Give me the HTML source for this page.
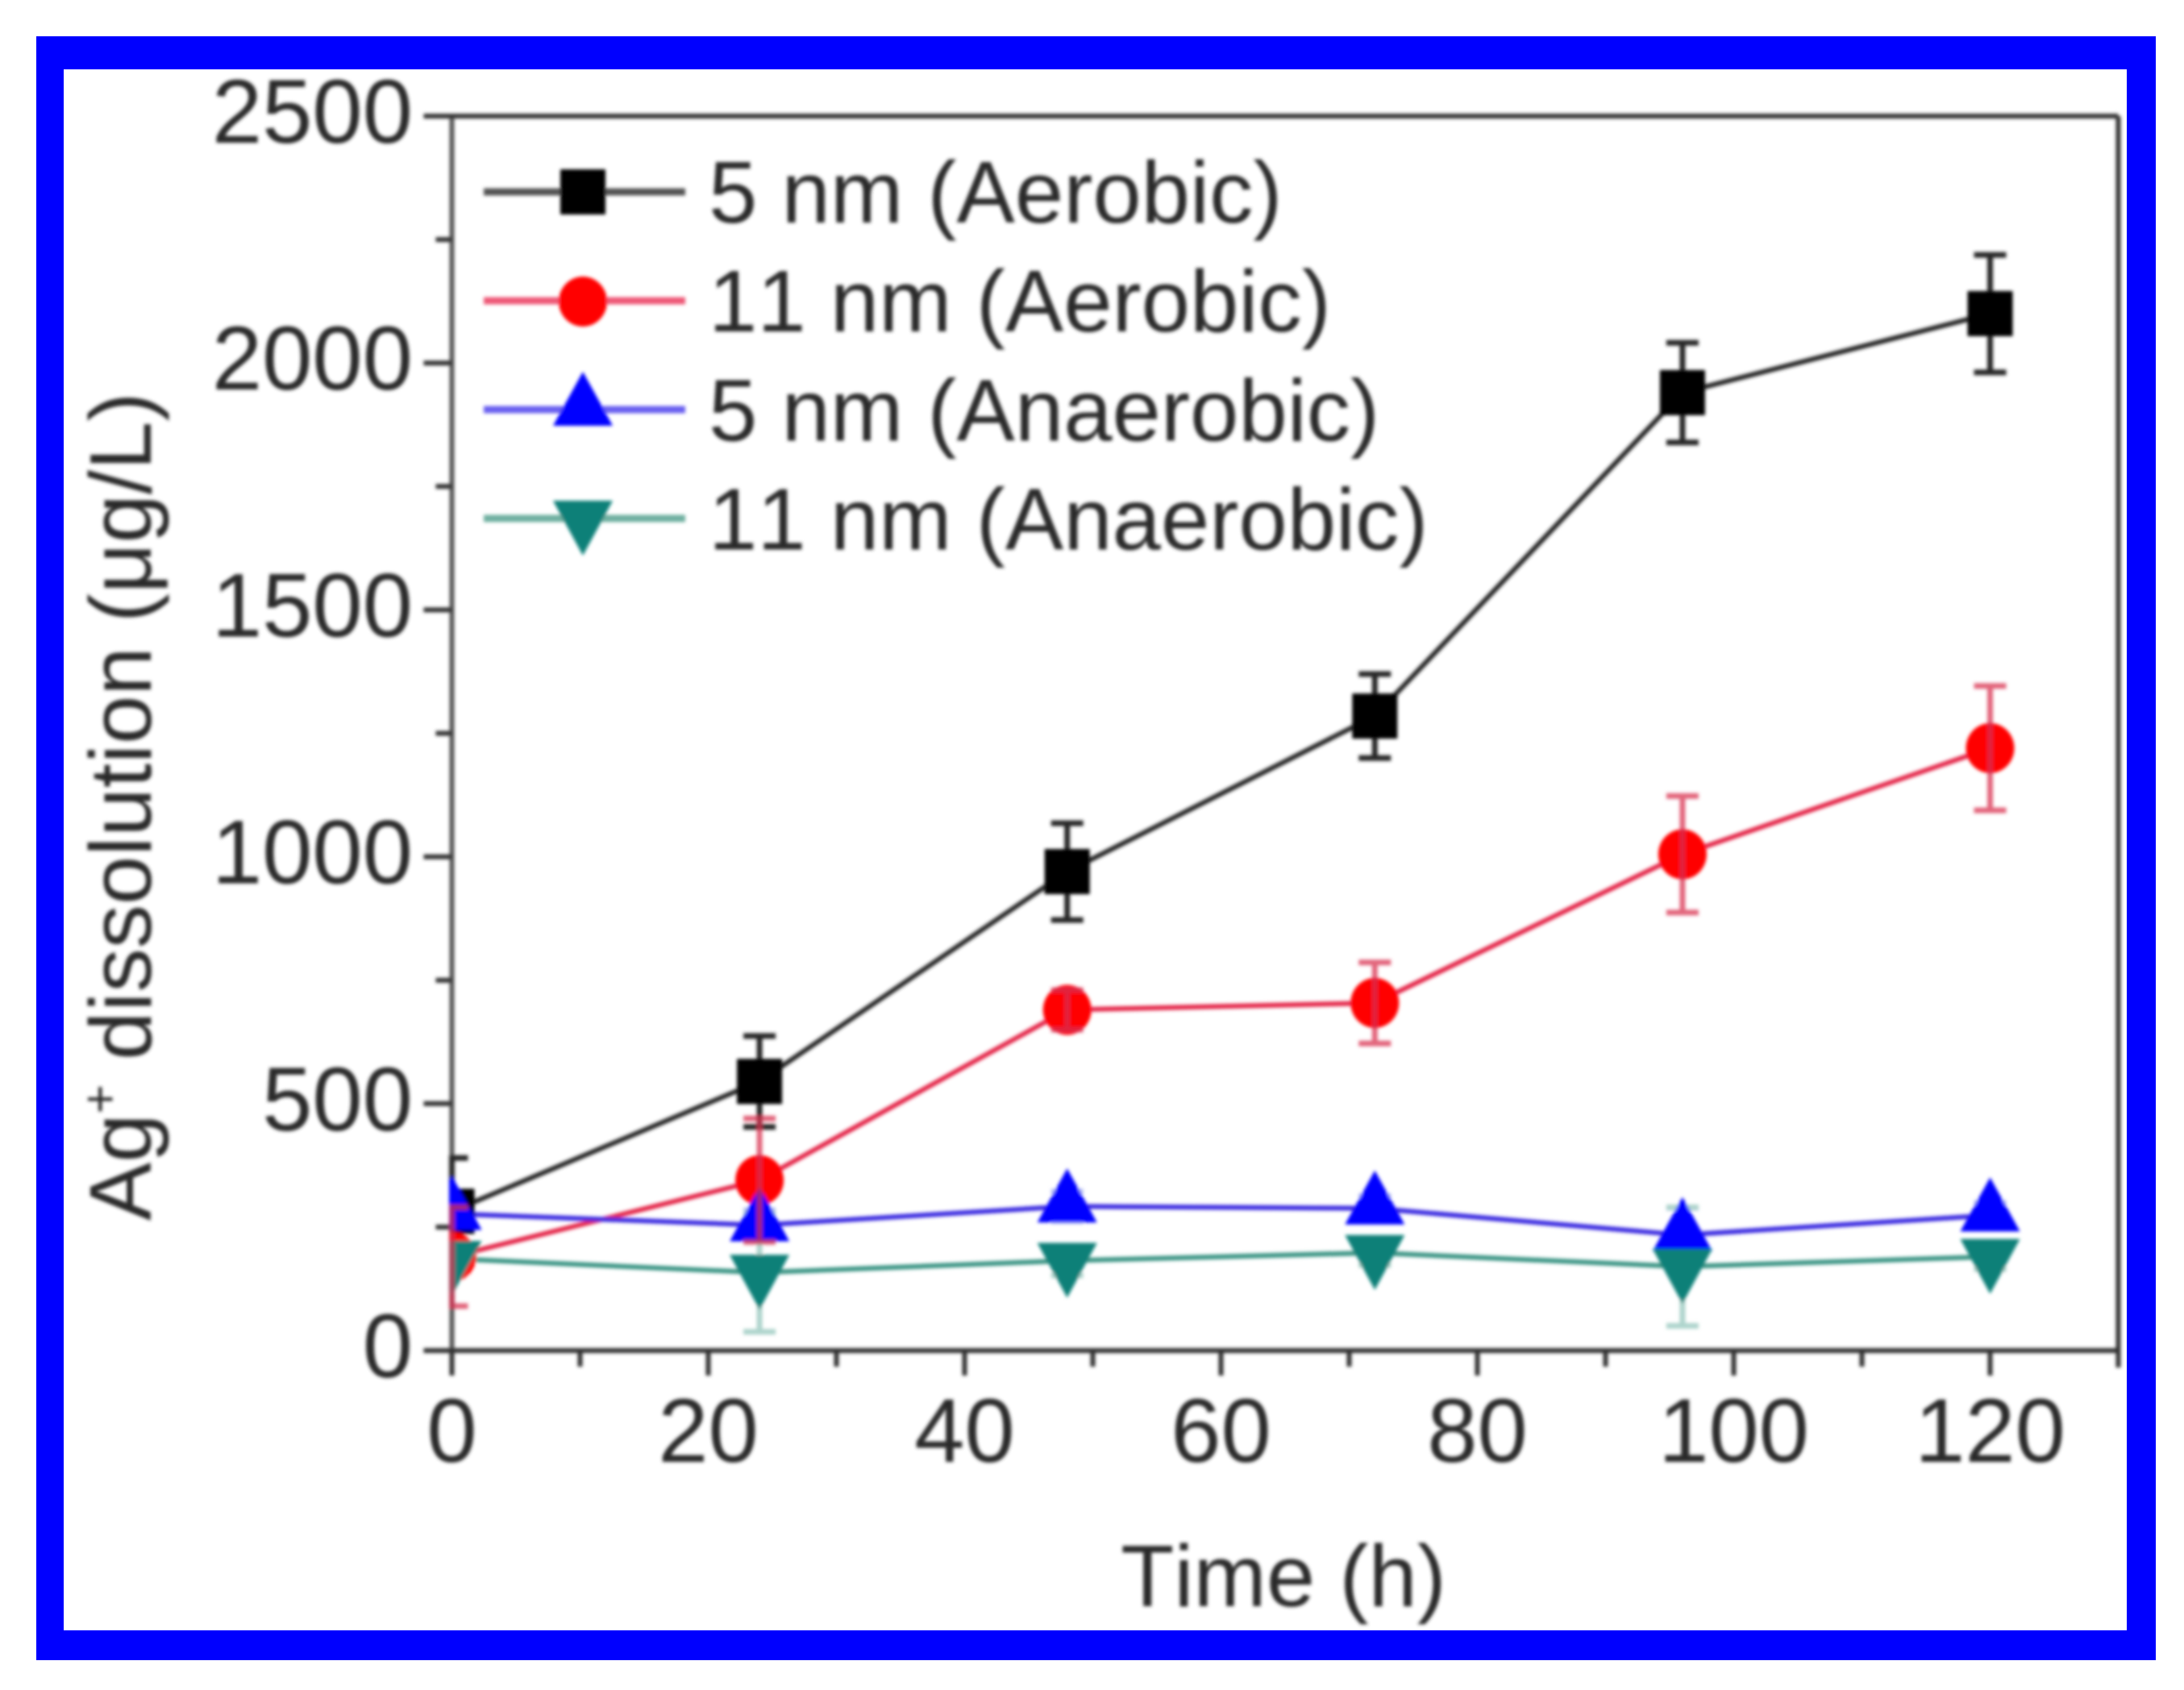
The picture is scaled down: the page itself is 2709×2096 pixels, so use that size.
<!DOCTYPE html>
<html lang="en">
<head>
<meta charset="utf-8">
<title>Ag+ dissolution over time</title>
<style>
html,body{margin:0;padding:0;background:#fff;width:2709px;height:2096px;overflow:hidden}
svg{display:block}
text{font-family:"Liberation Sans",sans-serif;font-size:108.5px;fill:#2a2a2a;font-kerning:none}
text.tick{font-size:112px}
</style>
</head>
<body>
<svg id="chart" xmlns="http://www.w3.org/2000/svg" width="2709" height="2096" viewBox="0 0 2709 2096">
  <defs>
    <filter id="soft" x="0" y="0" width="100%" height="100%" filterUnits="objectBoundingBox">
      <feGaussianBlur stdDeviation="2.2"/>
    </filter>
    <clipPath id="plot-clip"><rect x="557" y="100" width="2080" height="1640"/></clipPath>
  </defs>
  <rect x="0" y="0" width="2709" height="2096" fill="#fff"/>
  <path fill="#0000ff" fill-rule="evenodd" d="M45 45H2674V2059H45ZM79 86V2022H2638V86Z"/>
  <g id="plot" filter="url(#soft)">
    <rect x="45" y="45" width="2629" height="2014" fill="none"/>
  </g>
</svg>
<script>
const times = [0, 24, 48, 72, 96, 120];
const black5Aerobic = [282, 545, 970, 1285, 1940, 2100];
const black5AerobicErr = [108, 92, 98, 85, 101, 119];
const red11Aerobic = [190, 345, 690, 704, 1005, 1220];
const red11AerobicErr = [100, 125, 40, 82, 118, 126];
const blue5Anaerobic = [277, 254, 292, 288, 234, 274];
const blue5AnaerobicErr = [35, 30, 30, 25, 55, 25];
const teal11Anaerobic = [186, 158, 182, 198, 170, 190];
const teal11AnaerobicErr = [30, 120, 30, 25, 120, 25];
const xTickLabels = [0, 20, 40, 60, 80, 100, 120];
const yTickLabels = [0, 500, 1000, 1500, 2000, 2500];
const legendLabels = ['5 nm (Aerobic)', '11 nm (Aerobic)', '5 nm (Anaerobic)', '11 nm (Anaerobic)'];

const NS = 'http://www.w3.org/2000/svg';
const plot = document.getElementById('plot');
const X0 = 560.5, XPX = 15.9, Y0 = 1675, YPX = 0.6124;
const sx = v => X0 + v * XPX;
const sy = v => Y0 - v * YPX;

function make(tag, attrs, parent) {
  const el = document.createElementNS(NS, tag);
  for (const k in attrs) el.setAttribute(k, attrs[k]);
  (parent || plot).appendChild(el);
  return el;
}
function segment(x1, y1, x2, y2, color, width, parent) {
  return make('line', {x1, y1, x2, y2, stroke: color, 'stroke-width': width}, parent);
}
function marker(kind, cx, cy, color, parent) {
  if (kind === 'square') return make('rect', {x: cx - 28, y: cy - 28, width: 56, height: 56, fill: color}, parent);
  if (kind === 'circle') return make('ellipse', {cx, cy, rx: 30, ry: 31, fill: color}, parent);
  if (kind === 'up') return make('polygon', {points: `${cx},${cy - 47} ${cx + 37},${cy + 20} ${cx - 37},${cy + 20}`, fill: color}, parent);
  return make('polygon', {points: `${cx - 37},${cy - 22} ${cx + 37},${cy - 22} ${cx},${cy + 46}`, fill: color}, parent);
}

const AXIS = '#333';
const axisFrame = make('g', {});


segment(X0, sy(2500), X0, 1706, '#555', 6, axisFrame);
segment(527, sy(2500), sx(130), sy(2500), AXIS, 6, axisFrame);
segment(527, Y0, sx(130), Y0, AXIS, 6, axisFrame);
segment(sx(130), sy(2500), sx(130), 1696, AXIS, 6, axisFrame);

for (let v = 0; v <= 130; v += 10) {
  const major = v % 20 === 0;
  const tick = segment(sx(v), Y0, sx(v), Y0 + (major ? 31 : 20), AXIS, 6, axisFrame);
  
  
}
for (let v = 0; v <= 2500; v += 250) {
  const major = v % 500 === 0;
  const tick = segment(X0, sy(v), X0 - (major ? 35 : 20), sy(v), AXIS, 6, axisFrame);
  
  
}
xTickLabels.forEach(v => {
  const t = make('text', {x: sx(v), y: 1813, 'text-anchor': 'middle', class: 'tick'});
  t.textContent = v;
  
  
});
yTickLabels.forEach(v => {
  const t = make('text', {x: 512, y: sy(v) + 33, 'text-anchor': 'end', class: 'tick'});
  t.textContent = v;
  
  
});

const xTitle = make('text', {x: 1592, y: 1992, 'text-anchor': 'middle'});
xTitle.textContent = 'Time (h)';



const yTitle = make('text', {transform: 'translate(187,1514) rotate(-90)'});


const yA = make('tspan', {}, yTitle);
yA.textContent = 'Ag';
const ySup = make('tspan', {dy: -42, 'font-size': 62}, yTitle);
ySup.textContent = '+';
const yB = make('tspan', {dy: 42}, yTitle);
yB.textContent = ' dissolution (μg/L)';

const seriesNames = ['series-5nm-aerobic', 'series-11nm-aerobic', 'series-5nm-anaerobic', 'series-11nm-anaerobic'];
const seriesValues = [black5Aerobic, red11Aerobic, blue5Anaerobic, teal11Anaerobic];
const seriesErrors = [black5AerobicErr, red11AerobicErr, blue5AnaerobicErr, teal11AnaerobicErr];
const markerKinds = ['square', 'circle', 'up', 'down'];
const markerColors = ['#000000', '#ff0000', '#0000ff', '#0a8078'];
const lineColors = ['#262626', '#e42848', '#3a2ae0', '#3a9484'];
const errColors = ['#262626', '#d83050', '#b4bcf2', '#aed4cc'];
const legendLineColors = ['#555555', '#ee5a78', '#6a60f0', '#6fb0a0'];

const dataLayer = make('g', {'clip-path': 'url(#plot-clip)'});


const seriesGroups = seriesNames.map(name => {
  const g = make('g', {}, dataLayer);
  
  
  return g;
});
const markerGroups = seriesNames.map(name => {
  const g = make('g', {}, dataLayer);
  
  
  return g;
});
const redErrGroup = make('g', {opacity: 0.75}, dataLayer);



seriesValues.forEach((values, s) => {
  const g = seriesGroups[s];
  const pts = values.map((v, i) => sx(times[i]) + ',' + sy(v)).join(' ');
  const line = make('polyline', {points: pts, fill: 'none', stroke: lineColors[s], 'stroke-width': 6, 'stroke-linejoin': 'round'}, g);
  
  
  values.forEach((v, i) => {
    const cx = sx(times[i]);
    const e = seriesErrors[s][i];
    const bar = make('g', {}, s === 1 ? redErrGroup : g);
    
    
    segment(cx, sy(v + e), cx, sy(v - e), errColors[s], 7, bar);
    segment(cx - 20, sy(v + e), cx + 20, sy(v + e), errColors[s], 7, bar);
    segment(cx - 20, sy(v - e), cx + 20, sy(v - e), errColors[s], 7, bar);
    const m = marker(markerKinds[s], cx, sy(v), markerColors[s], markerGroups[s]);
    
    
  });
});

const legend = make('g', {});


legendLabels.forEach((label, i) => {
  const rowY = 238 + 135 * i;
  const row = make('g', {}, legend);
  
  
  segment(600, rowY, 850, rowY, legendLineColors[i], 9, row);
  marker(markerKinds[i], 723, rowY + (i === 1 ? 1 : 0), markerColors[i], row);
  const t = make('text', {x: i % 2 ? 879 : 879, y: 276 + 135.2 * i}, row);
  t.textContent = label;
});
</script>
</body>
</html>
